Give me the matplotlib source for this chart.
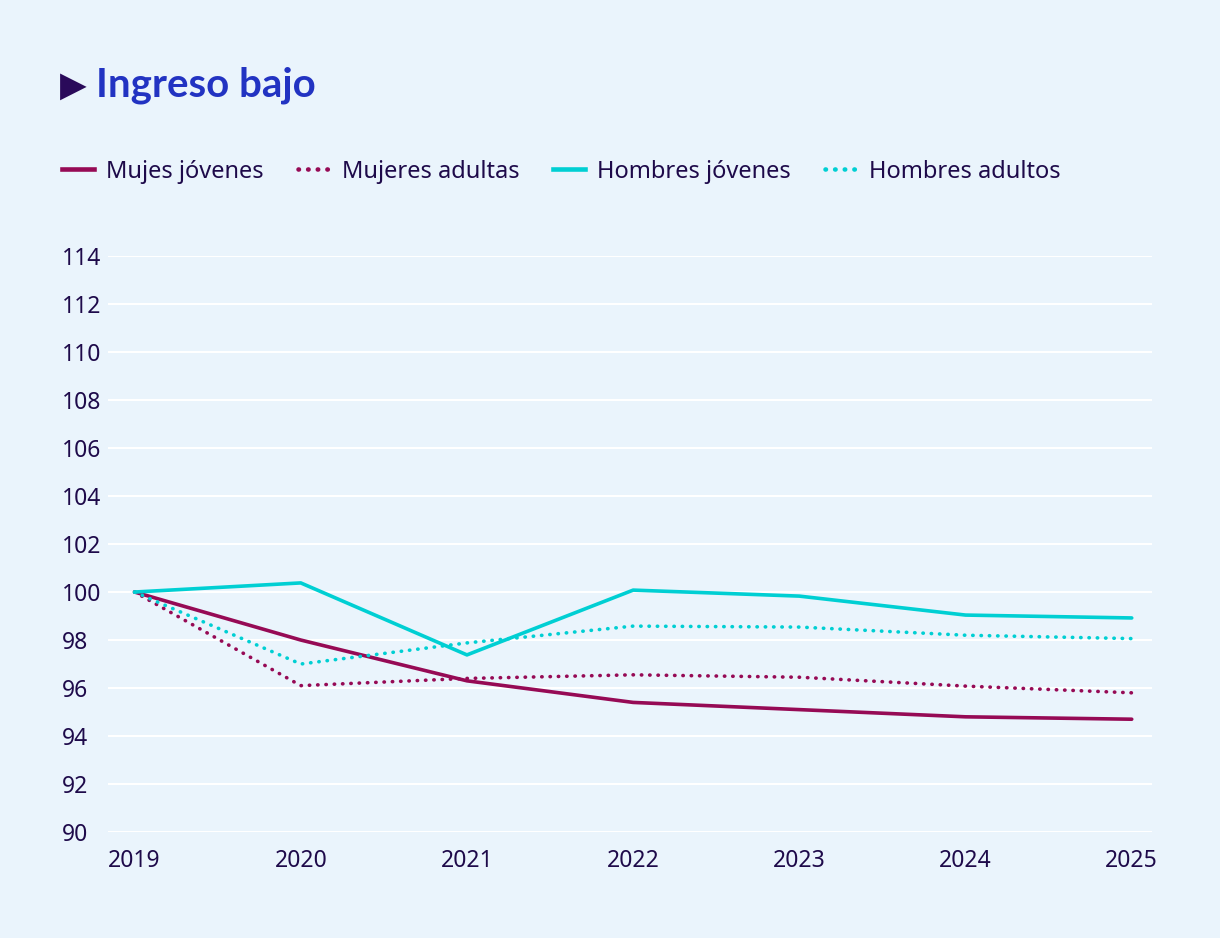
import numpy as np
import matplotlib.pyplot as plt
from matplotlib.lines import Line2D

plt.rcParams['font.family'] = ['Noto Sans', 'DejaVu Sans']

years = [2019, 2020, 2021, 2022, 2023, 2024, 2025]
mujeres_jovenes = [100, 98.0, 96.3, 95.4, 95.1, 94.8, 94.7]
mujeres_adultas = [100, 96.1, 96.4, 96.55, 96.45, 96.08, 95.8]
hombres_jovenes = [100, 100.38, 97.38, 100.08, 99.83, 99.04, 98.92]
hombres_adultos = [100, 97.0, 97.88, 98.58, 98.54, 98.2, 98.06]
yticks = np.arange(90, 115, 2)

bg = '#eaf4fc'
txt = '#1e0a4a'
magenta = '#960a55'
cyan = '#00cfd3'

fig = plt.figure(figsize=(12.2, 9.38), dpi=100, facecolor=bg)
ax = fig.add_axes([0.0885, 0.113, 0.8555, 0.614], facecolor=bg)

dots = (0, (0.1, 2.2))
ax.plot(years, mujeres_jovenes, color=magenta, lw=2.6, solid_capstyle='round', label='Mujes jóvenes')
ax.plot(years, mujeres_adultas, color=magenta, lw=2.6, linestyle=dots,
        dash_capstyle='round', label='Mujeres adultas')
ax.plot(years, hombres_jovenes, color=cyan, lw=2.6, solid_capstyle='round', label='Hombres jóvenes')
ax.plot(years, hombres_adultos, color=cyan, lw=2.6, linestyle=dots,
        dash_capstyle='round', label='Hombres adultos')

ax.set_ylim(90, 114)
ax.set_xlim(2018.84, 2025.12)
ax.set_yticks(yticks)
ax.set_xticks(years)
ax.grid(axis='y', color='white', lw=1.5)
ax.set_axisbelow(True)
for s in ax.spines.values():
    s.set_visible(False)
ax.tick_params(length=0, labelsize=16.5, colors=txt)
ax.tick_params(axis='x', pad=12)
for lab in ax.get_yticklabels():
    lab.set_horizontalalignment('left')
ax.tick_params(axis='y', pad=33)

# title
fig.text(0.049, 0.909, '\u25B6', fontsize=25, color='#2a0a5a', va='center', ha='left',
         family=['DejaVu Sans'])
fig.text(0.079, 0.8966, 'Ingreso bajo', fontsize=29, fontweight='bold', color='#2233c2',
         va='baseline', ha='left', family=['Lato', 'DejaVu Sans'])

handles = [Line2D([0], [0], color=magenta, lw=3.3),
           Line2D([0], [0], color=magenta, lw=3.3, linestyle=(0, (0.1, 2.0)), dash_capstyle='round'),
           Line2D([0], [0], color=cyan, lw=3.3),
           Line2D([0], [0], color=cyan, lw=3.3, linestyle=(0, (0.1, 2.0)), dash_capstyle='round')]
labels = ['Mujes jóvenes', 'Mujeres adultas', 'Hombres jóvenes', 'Hombres adultos']
leg = fig.legend(handles, labels, loc='center left', bbox_to_anchor=(0.051, 0.817), ncol=4,
                 frameon=False, fontsize=17, handlelength=1.36, handletextpad=0.5,
                 columnspacing=1.44, borderaxespad=0, borderpad=0)
for t in leg.get_texts():
    t.set_color(txt)

fig.savefig('out.png', dpi=100, facecolor=bg)
